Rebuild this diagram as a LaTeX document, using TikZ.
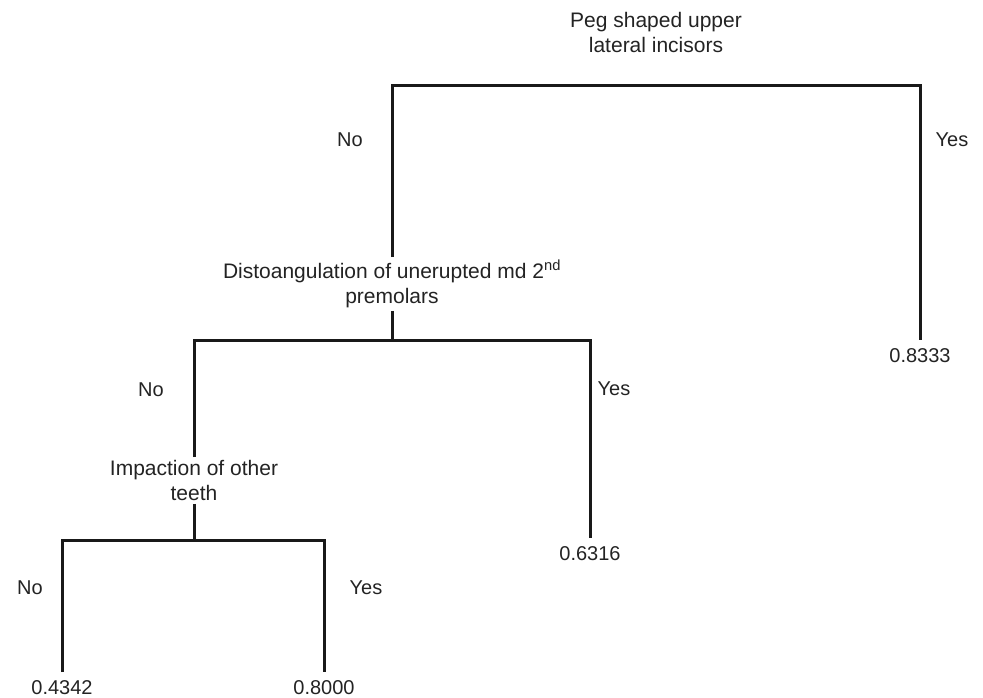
\documentclass[tikz,border=0pt]{standalone}
\usepackage{fontspec}
\setmainfont{Liberation Sans}
\definecolor{treeink}{RGB}{25,25,25}
\definecolor{treetext}{RGB}{35,35,35}
\usetikzlibrary{positioning}

\begin{document}
\begin{tikzpicture}[
  x=1pt, y=-1pt,
  qtext/.style={align=center, inner sep=3pt, text=treetext,
                font=\fontsize{21}{25}\selectfont},
  leaf/.style={inner xsep=2pt, inner ysep=8pt, text=treetext,
               font=\fontsize{20}{24}\selectfont},
  answer/.style={inner sep=0pt, text=treetext, font=\fontsize{20}{24}\selectfont},
  branch/.style={draw=treeink, line width=3pt}
]
\useasboundingbox (0,0) rectangle (983,697);

% split nodes
\node[qtext, anchor=north] (peg)  at (656,9)   {Peg shaped upper\\lateral incisors};
\node[qtext, anchor=north] (dist) at (392,257) {Distoangulation of unerupted md 2\textsuperscript{nd}\\premolars};
\node[qtext, anchor=north] (imp)  at (194,457) {Impaction of other\\teeth};

% leaves
\node[leaf, anchor=north] (leafD) at (920,340) {0.8333};
\node[leaf, anchor=north] (leafC) at (590,538) {0.6316};
\node[leaf, anchor=north] (leafA) at (62,672)  {0.4342};
\node[leaf, anchor=north] (leafB) at (324,672) {0.8000};

% bar centres
\coordinate (bar1) at (656,85);
\coordinate (bar2) at (392,340);
\coordinate (bar3) at (194,540);

% branches
\draw[branch] (dist.north) |- (bar1) -| (leafD.north);
\draw[branch] (dist.south) -- (bar2);
\draw[branch] (imp.north) |- (bar2) -| (leafC.north);
\draw[branch] (imp.south) -- (bar3);
\draw[branch] (leafA.north) |- (bar3) -| (leafB.north);

% answers
\node[answer] (no1)  at (350,140) {No};
\node[answer] (yes1) at (952,140) {Yes};
\node[answer] (no2)  at (151,390) {No};
\node[answer] (yes2) at (614,389) {Yes};
\node[answer] (no3)  at (30,588)  {No};
\node[answer] (yes3) at (366,588) {Yes};
\end{tikzpicture}
\end{document}
